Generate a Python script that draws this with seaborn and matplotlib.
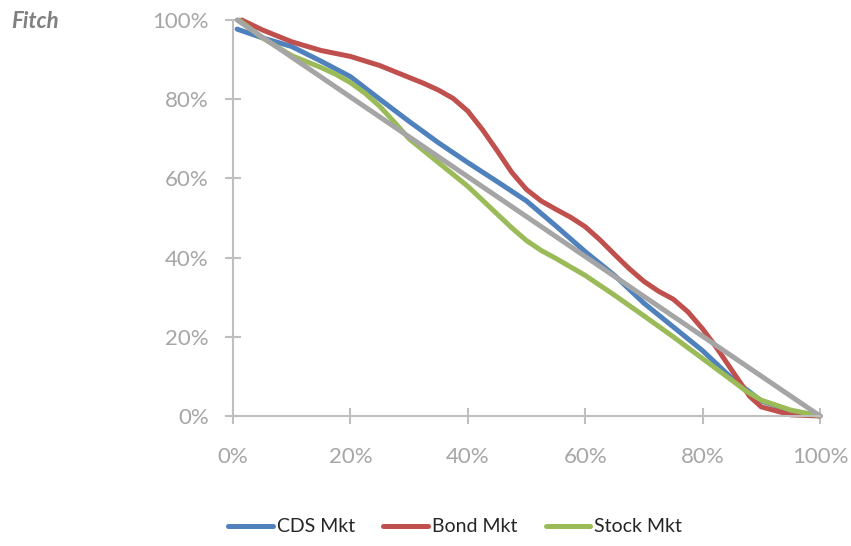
# Fitch: cumulative share curves for CDS, bond and stock markets
import numpy as np
import pandas as pd
import seaborn as sns
import matplotlib.pyplot as plt
from matplotlib.ticker import PercentFormatter

sns.set_style('ticks')
plt.rcParams['font.family'] = ['Lato', 'DejaVu Sans']

# values (percent)
cds_x = [0.7, 5, 10, 15, 20, 25, 30, 35, 40, 45, 50, 55, 60, 65, 70, 75, 80, 85, 90, 95, 100]
cds_y = [97.7, 95.5, 93.3, 89.6, 85.7, 80, 74.4, 69, 64, 59.2, 54.3, 48, 41.5, 35.5, 28.5, 22.5, 16.5, 9.5, 3.8, 1.3, 0]

bond_x = [1.5, 5, 10, 15, 20, 25, 30, 32.5, 35, 37.5, 40, 42.5, 45, 47.5, 50, 52.5, 55, 57.5, 60,
          62.5, 65, 67.5, 70, 72.5, 75, 77.5, 80, 82.5, 85, 88, 90, 95, 100]
bond_y = [100, 97.5, 94.5, 92.3, 90.8, 88.5, 85.5, 84, 82.3, 80.2, 77, 72.3, 67, 61.5, 57.2, 54.3, 52.2, 50.2, 47.8,
          44.5, 40.8, 37.2, 34, 31.5, 29.5, 26.3, 22, 17, 11.5, 5, 2.3, 0.3, 0]

stock_x = [1, 5, 10, 15, 17.5, 20, 22.5, 25, 27.5, 30, 35, 40, 45, 47.5, 50, 52.5, 55, 60, 65, 70, 75, 80, 85, 87.5, 90, 95, 100]
stock_y = [100, 95.5, 91, 88, 86.3, 84.2, 81.5, 78.2, 74.2, 70, 64, 58, 51, 47.5, 44.3, 41.8, 39.8, 35.5, 30.5, 25.3, 20, 14.5, 9, 6.2, 4, 1.5, 0]

# reference diagonal (no legend entry)
diag_x = [0.7, 100]
diag_y = [100, 0]

series = ['CDS Mkt', 'Bond Mkt', 'Stock Mkt']
colors = ['#4F81BD', '#C0504D', '#9BBB59']
axis_gray = '#BFBFBF'

frames = []
for name, xs, ys in zip(series, [cds_x, bond_x, stock_x], [cds_y, bond_y, stock_y]):
    frames.append(pd.DataFrame({'x': xs, 'y': ys, 'series': name}))
df = pd.concat(frames, ignore_index=True)

fig = plt.figure(figsize=(8.51, 5.46), dpi=100)
ax = fig.add_axes([233/851, 1-416/546, (820-233)/851, (416-20)/546])

sns.lineplot(data=df, x='x', y='y', hue='series', hue_order=series,
             palette=colors, sort=False, lw=3.6, ax=ax, legend=False,
             solid_capstyle='round', solid_joinstyle='round')
sns.lineplot(x=diag_x, y=diag_y, color='#A5A5A5', lw=3.6, ax=ax,
             solid_capstyle='round')

ax.set_xlim(0, 100)
ax.set_ylim(0, 100)
ax.set_xticks(range(0, 101, 20))
ax.set_yticks(range(0, 101, 20))
ax.xaxis.set_major_formatter(PercentFormatter(decimals=0))
ax.yaxis.set_major_formatter(PercentFormatter(decimals=0))
ax.set_xlabel('')
ax.set_ylabel('')

for s in ['top', 'right']:
    ax.spines[s].set_visible(False)
for s in ['left', 'bottom']:
    ax.spines[s].set_color(axis_gray)
    ax.spines[s].set_linewidth(1.5)
ax.tick_params(axis='both', direction='inout', length=11, width=1.5,
               bottom=True, left=True,
               color=axis_gray, labelcolor='#A6A6A6', labelsize=16)
ax.tick_params(axis='x', pad=17)
ax.tick_params(axis='y', pad=12)
for ln in ax.lines:
    ln.set_clip_on(False)

handles = [plt.Line2D([], [], color=c, lw=3.6, solid_capstyle='round') for c in colors]
fig.legend(handles, series, loc='center', bbox_to_anchor=(0.535, 0.035),
           ncol=3, frameon=False, fontsize=14, handlelength=2.3,
           handletextpad=0.2, columnspacing=1.45)

fig.text(11/851, 1-22/546, 'Fitch', fontsize=16, fontweight='bold',
         fontstyle='italic', color='#7F7F7F', va='center', ha='left')

fig.savefig('out.png', dpi=100)
